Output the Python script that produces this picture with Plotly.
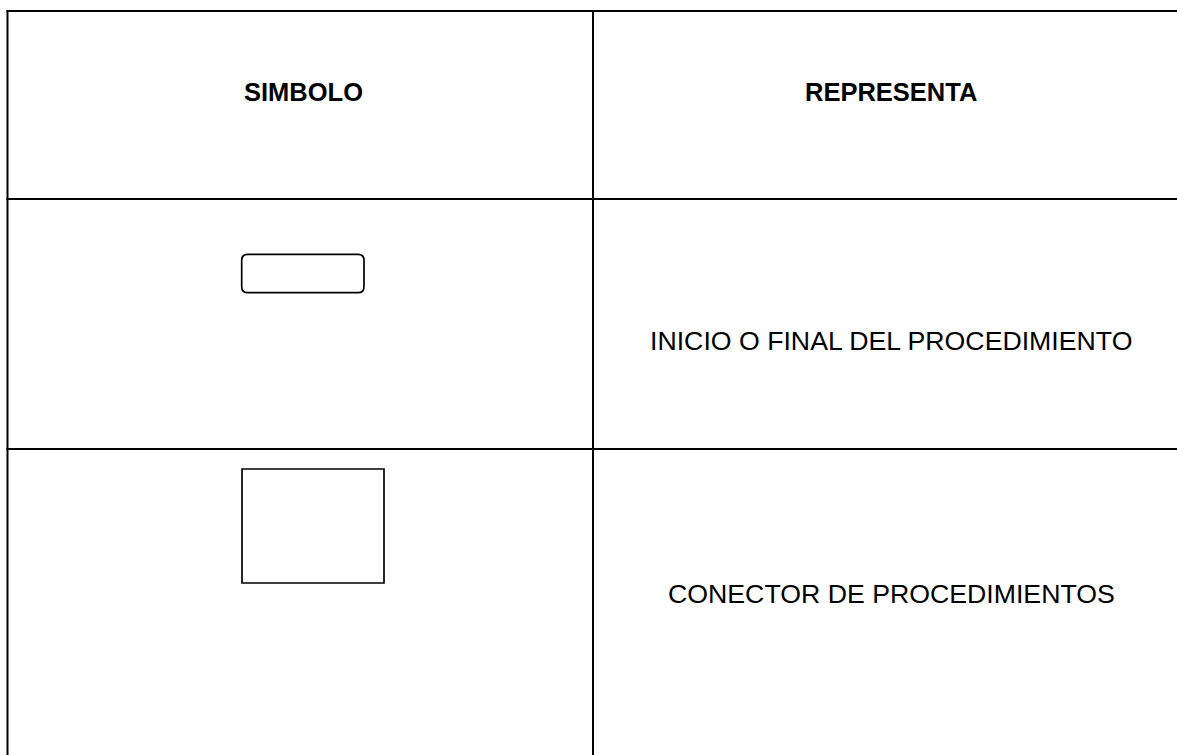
import plotly.graph_objects as go

# ---- content ----
headers = ["SIMBOLO", "REPRESENTA"]
symbols = ["terminal", "conector"]
descriptions = ["INICIO O FINAL DEL PROCEDIMIENTO", "CONECTOR DE PROCEDIMIENTOS"]

# ---- layout (pixel coordinates) ----
W, H = 1177, 755
col_edges = [7.5, 593, 1190]
row_edges = [11, 199, 449, 800]
header_y = 92
desc_y = [341, 594]
col_centers = [303, 891]
FONT = "Liberation Sans, Arial, sans-serif"

fig = go.Figure()
fig.add_trace(go.Scatter(x=[0, W], y=[0, H], mode="markers",
                         marker=dict(opacity=0), hoverinfo="skip", showlegend=False))

line = dict(color="black", width=2)
shapes = []
# top border
shapes.append(dict(type="line", x0=col_edges[0] - 1, x1=col_edges[-1], y0=row_edges[0], y1=row_edges[0], line=line))
# inner horizontal borders
for yy in row_edges[1:-1]:
    shapes.append(dict(type="line", x0=col_edges[0] - 1, x1=col_edges[-1], y0=yy, y1=yy, line=line))
# vertical borders
for xx in col_edges[:-1]:
    shapes.append(dict(type="line", x0=xx, x1=xx, y0=row_edges[0] - 1, y1=row_edges[-1], line=line))

sym_line = dict(color="black", width=1.7)
for sym in symbols:
    if sym == "terminal":
        x0, x1, y0, y1, r = 241.7, 364, 254.3, 292.7, 6
        path = (f"M {x0+r},{y0} L {x1-r},{y0} Q {x1},{y0} {x1},{y0+r} "
                f"L {x1},{y1-r} Q {x1},{y1} {x1-r},{y1} L {x0+r},{y1} "
                f"Q {x0},{y1} {x0},{y1-r} L {x0},{y0+r} Q {x0},{y0} {x0+r},{y0} Z")
        shapes.append(dict(type="path", path=path, line=sym_line))
    elif sym == "conector":
        shapes.append(dict(type="rect", x0=242, x1=384, y0=469, y1=583, line=sym_line))

annotations = []
for h, cx in zip(headers, col_centers):
    annotations.append(dict(x=cx, y=header_y, text=f"<b>{h}</b>", showarrow=False,
                            xanchor="center", yanchor="middle",
                            font=dict(family=FONT, size=25.5, color="black")))
for d, yy in zip(descriptions, desc_y):
    annotations.append(dict(x=col_centers[1], y=yy, text=d, showarrow=False,
                            xanchor="center", yanchor="middle",
                            font=dict(family=FONT, size=26.7, color="black")))

fig.update_layout(
    width=W, height=H,
    margin=dict(l=0, r=0, t=0, b=0),
    paper_bgcolor="white", plot_bgcolor="white",
    xaxis=dict(range=[0, W], visible=False, fixedrange=True),
    yaxis=dict(range=[H, 0], visible=False, fixedrange=True),
    shapes=shapes, annotations=annotations,
    showlegend=False,
)

fig.write_html("out.html", config={"displayModeBar": False},
               post_script="document.body.style.margin='0';document.body.style.overflow='hidden';")
